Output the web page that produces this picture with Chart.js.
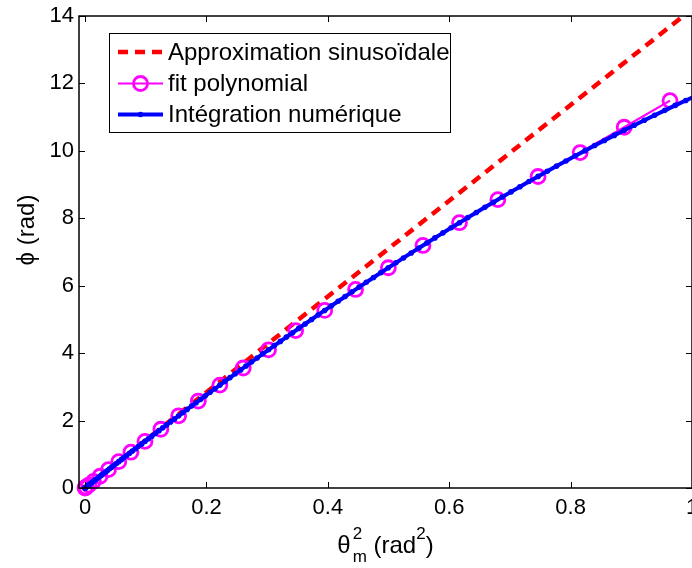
<!DOCTYPE html>
<html lang="fr">
<head>
<meta charset="utf-8">
<title>phi en fonction de theta_m^2</title>
<script src="https://cdn.jsdelivr.net/npm/chart.js@4.4.1/dist/chart.umd.min.js"></script>
<style>
  html, body { margin: 0; padding: 0; background: #fff; }
  #wrap { width: 692px; height: 568px; overflow: hidden; }
</style>
</head>
<body>
<div id="wrap"><canvas id="phiChart" width="692" height="568"></canvas></div>
<script>
'use strict';

// ── Values ────────────────────────────────────────────────────
const X_TICKS = [0, 0.2, 0.4, 0.6, 0.8, 1];
const Y_TICKS = [0, 2, 4, 6, 8, 10, 12, 14];

const LABEL_SIN = 'Approximation sinusoïdale';
const LABEL_FIT = 'fit polynomial';
const LABEL_NUM = 'Intégration numérique';

// dashed red line: small-angle approximation (straight line)
const THETA2_SIN = [0, 1];
const PHI_SIN = [0, 14.2];

// magenta circles: polynomial fit
const THETA2_FIT = [0, 0.0015, 0.0062, 0.0139, 0.0247, 0.0386, 0.0555, 0.0756, 0.0987, 0.1249,
  0.1542, 0.1866, 0.2221, 0.2606, 0.3023, 0.3470, 0.3948, 0.4457, 0.4997, 0.5567,
  0.6169, 0.6801, 0.7464, 0.8158, 0.8883, 0.9638];
const PHI_FIT = [0, 0.022, 0.088, 0.197, 0.349, 0.545, 0.782, 1.062, 1.382, 1.743,
  2.142, 2.579, 3.052, 3.560, 4.099, 4.669, 5.267, 5.889, 6.533, 7.194,
  7.869, 8.553, 9.240, 9.950, 10.700, 11.490];

// blue dotted line: numerical integration
const THETA2_NUM = [0, 0.0001, 0.0003, 0.0007, 0.0012, 0.0019, 0.0027, 0.0037, 0.0049, 0.0062,
  0.0076, 0.0092, 0.0110, 0.0129, 0.0149, 0.0171, 0.0195, 0.0220, 0.0247, 0.0275,
  0.0305, 0.0336, 0.0369, 0.0403, 0.0439, 0.0476, 0.0515, 0.0555, 0.0597, 0.0640,
  0.0685, 0.0732, 0.0780, 0.0829, 0.0880, 0.0933, 0.0987, 0.1043, 0.1100, 0.1158,
  0.1218, 0.1280, 0.1343, 0.1408, 0.1474, 0.1542, 0.1611, 0.1682, 0.1755, 0.1828,
  0.1904, 0.1981, 0.2059, 0.2139, 0.2221, 0.2304, 0.2388, 0.2474, 0.2562, 0.2651,
  0.2742, 0.2834, 0.2927, 0.3023, 0.3119, 0.3218, 0.3317, 0.3419, 0.3521, 0.3626,
  0.3732, 0.3839, 0.3948, 0.4058, 0.4170, 0.4284, 0.4399, 0.4515, 0.4633, 0.4753,
  0.4874, 0.4996, 0.5121, 0.5246, 0.5373, 0.5502, 0.5632, 0.5764, 0.5897, 0.6032,
  0.6169, 0.6306, 0.6446, 0.6587, 0.6729, 0.6873, 0.7018, 0.7165, 0.7314, 0.7464,
  0.7615, 0.7769, 0.7923, 0.8079, 0.8237, 0.8396, 0.8557, 0.8719, 0.8883, 0.9048,
  0.9215, 0.9383, 0.9553, 0.9724, 0.9897, 1.0071];
const PHI_NUM = [0, 0.001, 0.004, 0.010, 0.017, 0.027, 0.039, 0.053, 0.069, 0.088,
  0.108, 0.131, 0.155, 0.182, 0.212, 0.243, 0.276, 0.312, 0.349, 0.389,
  0.431, 0.475, 0.521, 0.569, 0.619, 0.672, 0.726, 0.782, 0.841, 0.902,
  0.964, 1.029, 1.096, 1.164, 1.235, 1.308, 1.382, 1.459, 1.538, 1.618,
  1.701, 1.785, 1.872, 1.960, 2.050, 2.142, 2.236, 2.332, 2.430, 2.529,
  2.630, 2.733, 2.838, 2.944, 3.052, 3.162, 3.274, 3.387, 3.502, 3.618,
  3.736, 3.856, 3.977, 4.099, 4.224, 4.349, 4.476, 4.605, 4.734, 4.866,
  4.998, 5.132, 5.267, 5.403, 5.540, 5.679, 5.819, 5.959, 6.101, 6.244,
  6.388, 6.533, 6.678, 6.824, 6.972, 7.120, 7.268, 7.418, 7.568, 7.718,
  7.869, 8.021, 8.172, 8.325, 8.477, 8.630, 8.783, 8.936, 9.089, 9.242,
  9.395, 9.548, 9.701, 9.853, 10.006, 10.157, 10.309, 10.459, 10.610, 10.759,
  10.908, 11.055, 11.202, 11.348, 11.493, 11.636];

// ── Styles ────────────────────────────────────────────────────
const FONT = '"Liberation Sans", Arial, Helvetica, sans-serif';
const RED = '#ff0000';
const MAGENTA = '#ff00ff';
const BLUE = '#0000ff';
const TICK_LEN = 6;

function pairs(xs, ys) {
    return xs.map(function (x, i) { return { x: x, y: ys[i] }; });
}

// ── MATLAB-like frame, inward ticks, axis titles, legend ──────
const matlabFrame = {
    id: 'matlabFrame',
    afterDraw: function (chart) {
        const ctx = chart.ctx;
        const a = chart.chartArea;
        const xs = chart.scales.x, ys = chart.scales.y;

        ctx.save();
        ctx.strokeStyle = '#000';
        ctx.lineWidth = 1.5;
        ctx.strokeRect(a.left, a.top, a.right - a.left, a.bottom - a.top);

        ctx.lineWidth = 1;
        ctx.beginPath();
        X_TICKS.forEach(function (v) {
            const px = Math.round(xs.getPixelForValue(v)) + 0.5;
            ctx.moveTo(px, a.bottom); ctx.lineTo(px, a.bottom - TICK_LEN);
            ctx.moveTo(px, a.top); ctx.lineTo(px, a.top + TICK_LEN);
        });
        Y_TICKS.forEach(function (v) {
            const py = Math.round(ys.getPixelForValue(v)) + 0.5;
            ctx.moveTo(a.left, py); ctx.lineTo(a.left + TICK_LEN, py);
            ctx.moveTo(a.right, py); ctx.lineTo(a.right - TICK_LEN, py);
        });
        ctx.stroke();

        // x title: θ with stacked sub "m" / sup "2", then (rad²)
        ctx.fillStyle = '#000';
        ctx.textBaseline = 'alphabetic';
        ctx.textAlign = 'left';
        const big = '24px ' + FONT, small = '17px ' + FONT;
        ctx.font = big;
        const wTheta = ctx.measureText('θ').width;
        const wRad = ctx.measureText(' (rad').width;
        const wClose = ctx.measureText(')').width;
        ctx.font = small;
        const wSub = Math.max(ctx.measureText('m').width, ctx.measureText('2').width);
        const wSup = ctx.measureText('2').width;
        const total = wTheta + 2 + wSub + wRad + wSup + wClose;
        let x0 = (a.left + a.right) / 2 - total / 2;
        const base = 553;
        ctx.font = big; ctx.fillText('θ', x0, base);
        x0 += wTheta + 2;
        ctx.font = small;
        ctx.fillText('2', x0, base - 14);
        ctx.fillText('m', x0, base + 9);
        x0 += wSub;
        ctx.font = big; ctx.fillText(' (rad', x0, base);
        x0 += wRad;
        ctx.font = small; ctx.fillText('2', x0, base - 14);
        x0 += wSup;
        ctx.font = big; ctx.fillText(')', x0, base);

        // y title (straight-stroke phi, as in the figure)
        ctx.save();
        ctx.translate(27, 230);
        ctx.rotate(-Math.PI / 2);
        ctx.textAlign = 'center';
        ctx.textBaseline = 'middle';
        ctx.font = big;
        ctx.fillText('ϕ (rad)', 0, 0);
        ctx.restore();

        // legend box
        const lx = 109.5, ly = 33.5, lw = 341, lh = 99;
        ctx.fillStyle = '#fff';
        ctx.fillRect(lx, ly, lw, lh);
        ctx.strokeStyle = '#000';
        ctx.lineWidth = 1;
        ctx.strokeRect(lx, ly, lw, lh);
        const rows = [52, 83.5, 114.5];
        chart.data.datasets.forEach(function (ds, i) {
            const y = rows[i];
            ctx.save();
            ctx.strokeStyle = ds.borderColor;
            ctx.lineWidth = ds.borderWidth;
            ctx.setLineDash(ds.borderDash || []);
            ctx.beginPath();
            ctx.moveTo(118, y); ctx.lineTo(163, y);
            ctx.stroke();
            ctx.setLineDash([]);
            if (ds.pointRadius > 0) {
                ctx.beginPath();
                ctx.arc(140.5, y, ds.pointRadius, 0, Math.PI * 2);
                if (ds.pointBorderWidth > 0) {
                    ctx.lineWidth = ds.pointBorderWidth;
                    ctx.strokeStyle = ds.pointBorderColor;
                    ctx.stroke();
                } else {
                    ctx.fillStyle = ds.pointBackgroundColor;
                    ctx.fill();
                }
            }
            ctx.restore();
            ctx.fillStyle = '#000';
            ctx.font = big;
            ctx.textAlign = 'left';
            ctx.textBaseline = 'middle';
            ctx.fillText(ds.label, 168, y + 1);
        });
        ctx.restore();
    }
};

// ── Chart ─────────────────────────────────────────────────────
new Chart(document.getElementById('phiChart'), {
    type: 'line',
    data: {
        datasets: [
            {
                label: LABEL_SIN,
                data: pairs(THETA2_SIN, PHI_SIN),
                borderColor: RED, borderWidth: 4.5, borderDash: [10, 7],
                pointRadius: 0, fill: false, tension: 0, order: 3
            },
            {
                label: LABEL_FIT,
                data: pairs(THETA2_FIT, PHI_FIT),
                borderColor: MAGENTA, borderWidth: 2.2,
                pointRadius: 7, pointBorderWidth: 2.8, pointBorderColor: MAGENTA,
                pointBackgroundColor: 'rgba(0,0,0,0)',
                fill: false, tension: 0, clip: false, order: 2
            },
            {
                label: LABEL_NUM,
                data: pairs(THETA2_NUM, PHI_NUM),
                borderColor: BLUE, borderWidth: 4,
                pointRadius: 2.8, pointBorderWidth: 0, pointBackgroundColor: BLUE,
                fill: false, tension: 0, clip: false, order: 1
            }
        ]
    },
    options: {
        responsive: false,
        animation: false,
        devicePixelRatio: 1,
        layout: { autoPadding: false, padding: { top: 16, right: 0, left: 0, bottom: 0 } },
        plugins: { legend: { display: false }, tooltip: { enabled: false } },
        scales: {
            x: {
                type: 'linear', min: -0.01, max: 1,
                grid: { display: false, drawTicks: false },
                border: { display: false },
                afterBuildTicks: function (s) { s.ticks = X_TICKS.map(function (v) { return { value: v }; }); },
                // right frame edge sits just past the canvas, as in the figure
                afterFit: function (s) { s.height = 80; s.paddingLeft = 0; s.paddingRight = -1.5; },
                ticks: {
                    color: '#000', padding: 7, maxRotation: 0, autoSkip: false,
                    font: { family: FONT, size: 22 },
                    callback: function (v) { return String(v); }
                }
            },
            y: {
                type: 'linear', min: 0, max: 14,
                grid: { display: false, drawTicks: false },
                border: { display: false },
                afterBuildTicks: function (s) { s.ticks = Y_TICKS.map(function (v) { return { value: v }; }); },
                afterFit: function (s) { s.width = 79; s.paddingTop = 0; s.paddingBottom = 0; },
                ticks: {
                    color: '#000', padding: 5, autoSkip: false,
                    font: { family: FONT, size: 22 },
                    callback: function (v) { return String(v); }
                }
            }
        }
    },
    plugins: [matlabFrame]
});
</script>
</body>
</html>
